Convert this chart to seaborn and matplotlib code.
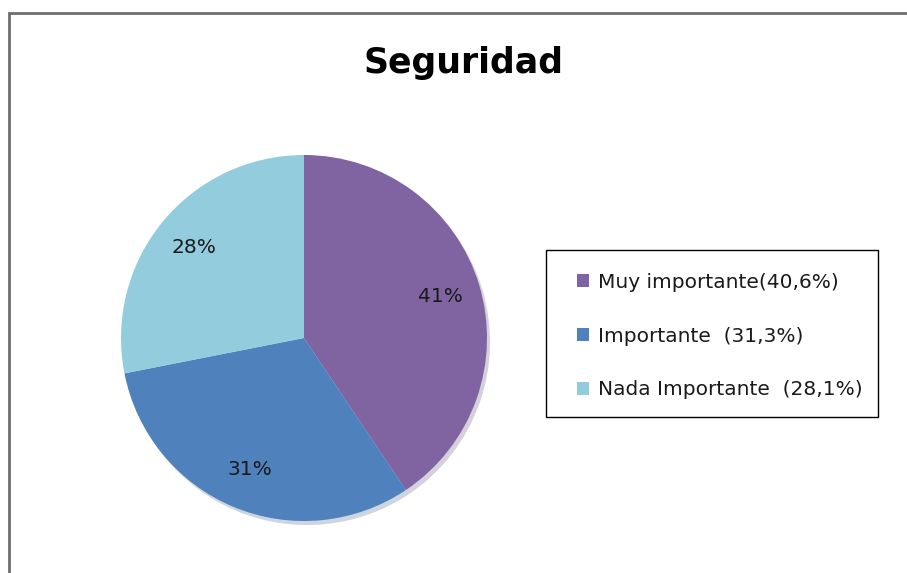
import matplotlib
matplotlib.use("Agg")
import matplotlib.pyplot as plt
from matplotlib.patches import Rectangle
import seaborn as sns

# data
categories = ["Muy importante(40,6%)", "Importante  (31,3%)", "Nada Importante  (28,1%)"]
values = [40.6, 31.3, 28.1]
colors = ["#8064A2", "#4F81BD", "#93CDDD"]
title = "Seguridad"

sns.set_theme(style="white")
plt.rcParams['font.family'] = ['DejaVu Sans']

W, H = 907, 573
fig = plt.figure(figsize=(W / 100, H / 100), dpi=100)
fig.patch.set_facecolor("white")

# outer chart frame (cut off at right and bottom)
fig.patches.append(Rectangle((9 / W, -0.1), 1.2, 1 - 13 / H + 0.1,
                             transform=fig.transFigure, fill=False,
                             edgecolor="#6E6E6E", linewidth=2))

# pie axes: centre (304, 338), radius 183 px
cx, cy, r = 304, 338, 183
ax = fig.add_axes([(cx - r) / W, (H - cy - r) / H, 2 * r / W, 2 * r / H])
wedges, texts, autotexts = ax.pie(
    values, colors=colors, startangle=90, counterclock=False,
    autopct="%.0f%%", pctdistance=0.78,
    shadow={"ox": 0.012, "oy": -0.016, "shade": 0.3, "alpha": 0.25},
    wedgeprops={"linewidth": 0},
    textprops={"fontsize": 14.5, "color": "#1a1a1a"})
ax.set_xlim(-1, 1)
ax.set_ylim(-1, 1)
ax.set_aspect("equal")

fig.text(464 / W, 1 - 63 / H, title, ha="center", va="center",
         fontsize=25, fontweight="bold", color="black")

# legend box drawn separately, entries placed inside it
fig.patches.append(Rectangle((546 / W, 1 - 417 / H), 332 / W, 167 / H,
                             transform=fig.transFigure, fill=False,
                             edgecolor="black", linewidth=1.0))
leg = fig.legend(wedges, categories,
                 bbox_to_anchor=(577 / W, 1 - 273 / H),
                 loc="upper left", fontsize=14.5, frameon=False,
                 handlelength=0.62, handleheight=0.62, handletextpad=0.4,
                 borderpad=0, labelspacing=1.72, borderaxespad=0,
                 labelcolor="#1a1a1a")

fig.savefig("out.png", dpi=100, facecolor="white")
